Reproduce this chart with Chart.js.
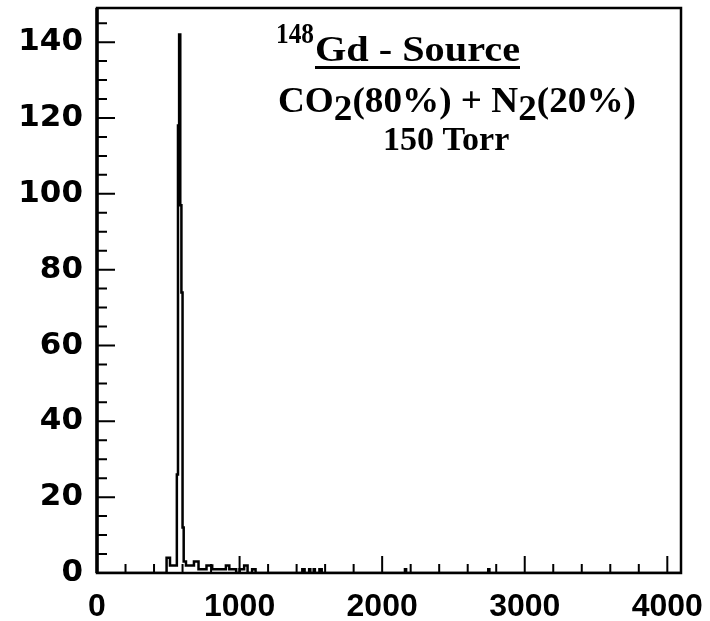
<!DOCTYPE html>
<html>
<head>
    <title>148Gd - Source spectrum</title>
    <script src="https://cdn.jsdelivr.net/npm/chart.js"></script>
    <style>
        body { margin: 0; background: #fff; }
        #wrap { width: 710px; height: 621px; }
    </style>
</head>
<body>
    <div id="wrap"><canvas id="spec" width="710" height="621"></canvas></div>

    <script>
        // histogram segments: low edge, high edge (channel), counts
        const binLow    = [488, 512, 560, 568, 576, 584, 592, 600, 608, 624, 680, 712, 768, 808, 904, 928, 1000, 1032, 1088, 1440, 1488, 1520, 1560, 2160, 2744];
        const binHigh   = [512, 560, 568, 576, 584, 592, 600, 608, 624, 680, 712, 768, 808, 904, 928, 976, 1032, 1056, 1112, 1456, 1496, 1528, 1576, 2168, 2752];
        const binCounts = [4,   2,   26,  118, 142, 97,  74,  12,  3,   2,   3,   1,   2,   1,   2,   1,   1,    2,    1,    1,    1,    1,    1,    1,    1];

        // axes
        const xRange = [0, 4096];
        const yRange = [0, 149];
        const xTickValues = [0, 1000, 2000, 3000, 4000];
        const yTickValues = [0, 20, 40, 60, 80, 100, 120, 140];
        const xMinorStep = 200;
        const yMinorStep = 5;

        // text in the pad
        const titleSup = '148';
        const titleMain = 'Gd - Source';
        const gasParts = [['CO', 0], ['2', 1], ['(80%) + N', 0], ['2', 1], ['(20%)', 0]];
        const pressureText = '150 Torr';

        // step outline of the histogram
        const points = [{ x: xRange[0], y: 0 }];
        let lastHigh = xRange[0];
        for (let i = 0; i < binLow.length; i++) {
            if (binLow[i] > lastHigh) points.push({ x: lastHigh, y: 0 });
            points.push({ x: binLow[i], y: binCounts[i] });
            lastHigh = binHigh[i];
        }
        points.push({ x: lastHigh, y: 0 });
        points.push({ x: xRange[1], y: 0 });

        // frame + inward ticks, ROOT style
        const frameTicks = {
            id: 'frameTicks',
            afterDatasetsDraw(chart) {
                const { ctx, chartArea: a, scales: { x, y } } = chart;
                ctx.save();
                ctx.strokeStyle = '#000';
                ctx.lineWidth = 2;
                ctx.beginPath();
                for (let v = 0; v <= xRange[1]; v += xMinorStep) {
                    const px = x.getPixelForValue(v);
                    const len = xTickValues.includes(v) ? 17 : 9;
                    ctx.moveTo(px, a.bottom);
                    ctx.lineTo(px, a.bottom - len);
                }
                for (let v = 0; v <= yRange[1]; v += yMinorStep) {
                    const py = y.getPixelForValue(v);
                    const len = yTickValues.includes(v) ? 18 : 10;
                    ctx.moveTo(a.left, py);
                    ctx.lineTo(a.left + len, py);
                }
                ctx.stroke();

                ctx.lineWidth = 2.5;
                ctx.strokeRect(a.left, a.top, a.right - a.left, a.bottom - a.top);
                ctx.lineWidth = 3.5;
                ctx.beginPath();
                ctx.moveTo(a.left, a.top);
                ctx.lineTo(a.left, a.bottom);
                ctx.stroke();
                ctx.restore();
            }
        };

        // draws a text run starting at x0, stretched horizontally to span width w
        function stretchText(ctx, parts, x0, baseline, w, subDrop) {
            let total = 0;
            parts.forEach(p => { total += ctx.measureText(p[0]).width; });
            const sx = w / total;
            ctx.save();
            ctx.translate(x0, 0);
            ctx.scale(sx, 1);
            let gx = 0;
            parts.forEach(p => {
                ctx.fillText(p[0], gx, baseline + (p[1] ? subDrop : 0));
                gx += ctx.measureText(p[0]).width;
            });
            ctx.restore();
            return total * sx;
        }

        // title text block
        const titleBlock = {
            id: 'titleBlock',
            afterDraw(chart) {
                const ctx = chart.ctx;
                const serif = '"Liberation Serif", "Times New Roman", serif';
                ctx.save();
                ctx.fillStyle = '#000';
                ctx.textBaseline = 'alphabetic';

                ctx.font = 'bold 30px ' + serif;
                stretchText(ctx, [[titleSup, 0]], 276, 43, 38, 0);

                ctx.font = 'bold 35px ' + serif;
                const mainW = stretchText(ctx, [[titleMain, 0]], 315, 61, 205, 0);
                ctx.fillRect(315, 66, mainW, 3);

                stretchText(ctx, gasParts, 278, 112, 358, 8);
                ctx.font = 'bold 34px ' + serif;
                ctx.fillText(pressureText, 383, 150);
                ctx.restore();
            }
        };

        function noPad(s) {
            s.paddingLeft = 0;
            s.paddingRight = 0;
            s.paddingTop = 0;
            s.paddingBottom = 0;
        }

        new Chart(document.getElementById('spec'), {
            type: 'line',
            data: {
                datasets: [{
                    data: points,
                    stepped: true,
                    borderColor: '#000',
                    borderWidth: 2.5,
                    pointRadius: 0,
                    fill: false
                }]
            },
            options: {
                responsive: false,
                animation: false,
                layout: { padding: { top: 8, right: 29, left: 0, bottom: 0 } },
                plugins: {
                    legend: { display: false },
                    tooltip: { enabled: false }
                },
                scales: {
                    x: {
                        type: 'linear',
                        min: xRange[0],
                        max: xRange[1],
                        grid: { display: false, drawTicks: false },
                        border: { display: false },
                        afterBuildTicks: function (s) { s.ticks = xTickValues.map(v => ({ value: v })); },
                        afterFit: function (s) { s.height = 48; noPad(s); },
                        ticks: {
                            color: '#000',
                            font: { family: '"Liberation Sans", Arial, sans-serif', size: 32, weight: 'bold' },
                            padding: 15,
                            maxRotation: 0,
                            autoSkip: false,
                            callback: v => String(v)
                        }
                    },
                    y: {
                        min: yRange[0],
                        max: yRange[1],
                        grid: { display: false, drawTicks: false },
                        border: { display: false },
                        afterBuildTicks: function (s) { s.ticks = yTickValues.map(v => ({ value: v })); },
                        afterFit: function (s) { s.width = 97; noPad(s); },
                        ticks: {
                            color: '#000',
                            font: { family: '"DejaVu Sans", sans-serif', size: 31, weight: 'bold' },
                            padding: 14,
                            callback: v => String(v)
                        }
                    }
                }
            },
            plugins: [frameTicks, titleBlock]
        });
    </script>
</body>
</html>
